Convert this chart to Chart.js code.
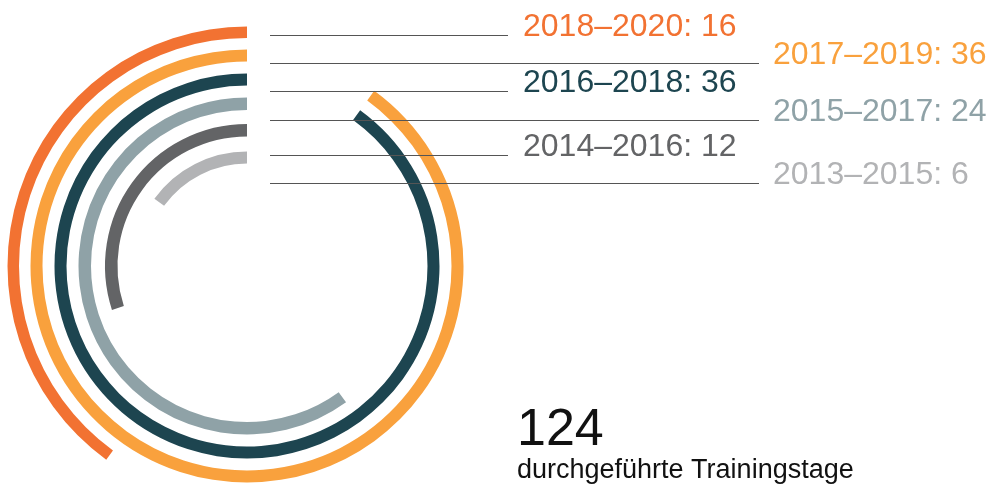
<!DOCTYPE html>
<html><head><meta charset="utf-8">
<script src="https://cdn.jsdelivr.net/npm/chart.js@4/dist/chart.umd.min.js"></script>
<style>html,body{margin:0;padding:0;background:#fff;overflow:hidden}canvas{display:block}</style>
</head><body>
<canvas id="c" width="986" height="486"></canvas>
<script>
// ---- data ----
const periods = ['2018–2020', '2017–2019', '2016–2018', '2015–2017', '2014–2016', '2013–2015'];
const values = [16, 36, 36, 24, 12, 6];
const scaleMax = 40;
const totalDays = 124;
const totalCaption = 'durchgeführte Trainingstage';

// ---- styles / layout ----
const colors = ['#F27232', '#F9A13D', '#1D4550', '#8FA2A7', '#636466', '#B2B3B5'];
const ringThickness = [11.5, 12, 12, 12.5, 12.5, 12];
const ringGaps = [11.5, 12, 12, 14, 15];
const outerR = 239.5;
const centerX = 247, centerY = 266;
const W = 986, H = 486;
const labelLayout = [
  {lineY: 35.5, lineEnd: 508, textX: 523},
  {lineY: 63.5, lineEnd: 759, textX: 773},
  {lineY: 91.5, lineEnd: 508, textX: 523},
  {lineY: 120.5, lineEnd: 759, textX: 773},
  {lineY: 155.5, lineEnd: 508, textX: 523},
  {lineY: 183.5, lineEnd: 759, textX: 773}
];
const FONT = '"Liberation Sans", Arial, sans-serif';

// build datasets: each ring = [remaining (transparent), value] so the visible arc runs counter-clockwise from 12 o'clock
const datasets = [];
values.forEach((v, i) => {
  datasets.push({
    label: periods[i],
    data: [scaleMax - v, v],
    backgroundColor: ['rgba(0,0,0,0)', colors[i]],
    borderWidth: 0,
    weight: ringThickness[i],
    clip: false
  });
  if (i < ringGaps.length) {
    datasets.push({
      label: 'gap',
      data: [1],
      backgroundColor: ['rgba(0,0,0,0)'],
      borderWidth: 0,
      weight: ringGaps[i],
      clip: false
    });
  }
});
const totalWeight = ringThickness.reduce((a, b) => a + b, 0) + ringGaps.reduce((a, b) => a + b, 0);
const innerR = outerR - totalWeight;

const labelPlugin = {
  id: 'labels',
  afterDatasetsDraw(chart) {
    const ctx = chart.ctx;
    ctx.save();
    labelLayout.forEach((l, i) => {
      ctx.strokeStyle = '#555';
      ctx.lineWidth = 1;
      ctx.beginPath();
      ctx.moveTo(270, l.lineY);
      ctx.lineTo(l.lineEnd, l.lineY);
      ctx.stroke();
      ctx.fillStyle = colors[i];
      ctx.font = '32px ' + FONT;
      ctx.textBaseline = 'alphabetic';
      ctx.textAlign = 'left';
      ctx.fillText(periods[i] + ': ' + values[i], l.textX, Math.round(l.lineY + 0.5));
    });
    ctx.fillStyle = '#111';
    ctx.font = '52px ' + FONT;
    ctx.fillText(String(totalDays), 517, 445);
    ctx.font = '27px ' + FONT;
    ctx.fillText(totalCaption, 517, 478);
    ctx.restore();
  }
};

new Chart(document.getElementById('c'), {
  type: 'doughnut',
  data: {labels: ['rest', 'value'], datasets},
  options: {
    responsive: false,
    animation: false,
    events: [],
    radius: outerR,
    cutout: (innerR / outerR * 100) + '%',
    rotation: 0,
    circumference: 360,
    layout: {padding: {left: 0, right: W - 2 * centerX, top: 2 * centerY - H, bottom: 0}},
    plugins: {legend: {display: false}, tooltip: {enabled: false}}
  },
  plugins: [labelPlugin]
});
</script>
</body></html>
